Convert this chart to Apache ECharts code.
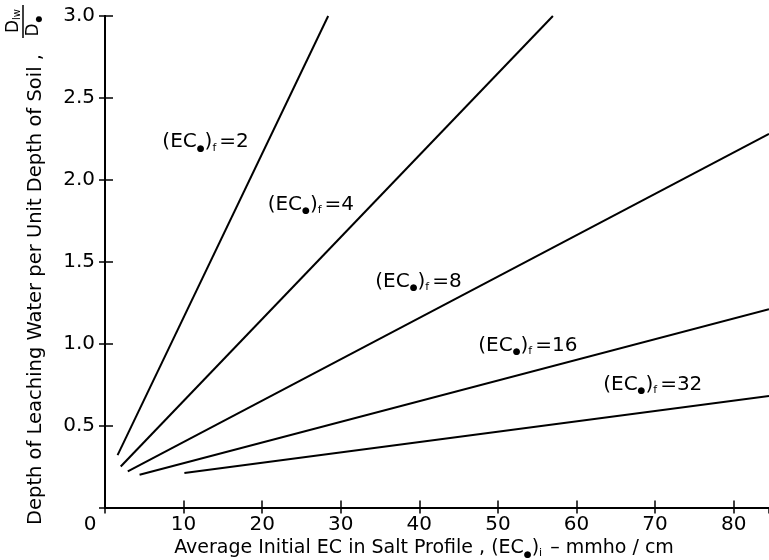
<!DOCTYPE html>
<html>
<head>
<meta charset="utf-8">
<script src="https://cdn.jsdelivr.net/npm/echarts@6/dist/echarts.min.js"></script>
<style>html,body{margin:0;padding:0;background:#fff}#c{width:769px;height:560px}</style>
</head>
<body>
<div id="c"></div>
<script>
// Data
const xTicks = [0, 10, 20, 30, 40, 50, 60, 70, 80];
const yTicks = [0.5, 1.0, 1.5, 2.0, 2.5, 3.0];
const curveNames = ['2', '4', '8', '16', '32'];
const line2  = [[1.6, 0.32], [28.4, 3.0]];
const line4  = [[2.0, 0.25], [57.0, 3.0]];
const line8  = [[2.9, 0.22], [84.5, 2.28]];
const line16 = [[4.4, 0.20], [84.5, 1.21]];
const line32 = [[10.1, 0.21], [84.5, 0.68]];
const labelAnchorsX = [7.3, 20.7, 34.4, 47.5, 63.4];
const labelAnchorsY = [2.23, 1.85, 1.38, 0.99, 0.75];

const FONT = 'DejaVu Sans';
const INK = '#000';
const lines = [line2, line4, line8, line16, line32];
const chart = echarts.init(document.getElementById('c'), null, {renderer: 'canvas'});

const subRich = {
  n: {fontFamily: FONT, fontSize: 20, color: INK, opacity: 1},
  e: {fontFamily: FONT, fontSize: 9, color: INK, verticalAlign: 'bottom', padding: [10, 0, 0, 0]},
  f: {fontFamily: FONT, fontSize: 11, color: INK, verticalAlign: 'bottom', padding: [11, 3, 0, 0]}
};

const series = lines.map((d, i) => ({
  type: 'line', name: 'EC' + curveNames[i], data: d, showSymbol: false, symbol: 'none',
  lineStyle: {color: INK, width: 2}, silent: true, animation: false, clip: true
}));
series.push({
  type: 'scatter', name: 'labels', symbolSize: 0, silent: true, animation: false,
  itemStyle: {opacity: 1},
  data: labelAnchorsX.map((x, i) => ({value: [x, labelAnchorsY[i]], name: curveNames[i]})),
  label: {
    show: true, position: 'right', distance: 0, color: INK, opacity: 1, textBorderWidth: 0,
    formatter: p => '{n|(EC}{e|●}{n|)}{f|f}{n|=' + p.name + '}',
    rich: subRich
  }
});

const axisLineStyle = {color: INK, width: 2};
chart.setOption({
  animation: false,
  backgroundColor: '#fff',
  grid: {left: 105, top: 16, right: 0, bottom: 52.5, containLabel: false},
  xAxis: [{
    type: 'value', min: 0, max: 84.5, interval: 10, position: 'bottom',
    axisLine: {show: true, lineStyle: axisLineStyle},
    axisTick: {show: true, inside: true, length: 7, lineStyle: {color: INK, width: 1.5}},
    splitLine: {show: false},
    axisLabel: {
      fontFamily: FONT, fontSize: 20, color: INK, margin: 7, showMaxLabel: false,
      formatter: v => xTicks.indexOf(v) === 0 ? '{z|0}' : (xTicks.indexOf(v) >= 0 ? String(v) : ''),
      rich: {z: {fontFamily: FONT, fontSize: 20, color: INK, padding: [0, 30, 0, 0]}}
    }
  }, {
    type: 'value', min: 0, max: 84.5, interval: 10, position: 'top',
    axisLine: {show: true, lineStyle: axisLineStyle},
    axisTick: {show: true, inside: true, length: 6, lineStyle: {color: INK, width: 1.5}},
    axisLabel: {show: false}, splitLine: {show: false}
  }],
  yAxis: [{
    type: 'value', min: 0, max: 3.0, interval: 0.5, position: 'left',
    axisLine: {show: true, lineStyle: axisLineStyle},
    axisTick: {show: true, inside: true, length: 8, lineStyle: {color: INK, width: 1.5}},
    splitLine: {show: false},
    axisLabel: {
      fontFamily: FONT, fontSize: 20, color: INK, margin: 10, showMinLabel: false,
      formatter: v => yTicks.some(t => Math.abs(t - v) < 1e-9) ? v.toFixed(1) : ''
    }
  }, {
    type: 'value', min: 0, max: 3.0, interval: 0.5, position: 'right',
    axisLine: {show: true, lineStyle: axisLineStyle},
    axisTick: {show: true, inside: true, length: 6, lineStyle: {color: INK, width: 1.5}},
    axisLabel: {show: false}, splitLine: {show: false}
  }],
  series: series,
  graphic: [
    {
      type: 'text', x: 424, y: 548, silent: true,
      style: {
        text: '{n|Average Initial EC in Salt Profile , (EC}{e|●}{n|)}{f|i}{n| – mmho / cm}',
        align: 'center', verticalAlign: 'middle',
        rich: {
          n: {fontFamily: FONT, fontSize: 19, fill: INK},
          e: {fontFamily: FONT, fontSize: 9, fill: INK, verticalAlign: 'bottom', padding: [9, 0, 0, 0]},
          f: {fontFamily: FONT, fontSize: 11, fill: INK, verticalAlign: 'bottom', padding: [11, 2, 0, 0]}
        }
      }
    },
    {
      type: 'text', x: 36, y: 525, rotation: Math.PI / 2, silent: true,
      style: {
        text: 'Depth of Leaching Water per Unit Depth of Soil ,',
        font: '19.5px ' + FONT, fill: INK, align: 'left', verticalAlign: 'middle'
      }
    },
    {
      type: 'text', x: 14, y: 21, rotation: Math.PI / 2, silent: true,
      style: {
        text: '{d|D}{s|lw}', align: 'center', verticalAlign: 'middle',
        rich: {d: {fontFamily: FONT, fontSize: 17, fill: INK}, s: {fontFamily: FONT, fontSize: 10, fill: INK, verticalAlign: 'bottom', padding: [7, 0, 0, 0]}}
      }
    },
    {
      type: 'line', silent: true,
      shape: {x1: 23, y1: 5, x2: 23, y2: 38},
      style: {stroke: INK, lineWidth: 1.5}
    },
    {
      type: 'text', x: 34, y: 26, rotation: Math.PI / 2, silent: true,
      style: {
        text: '{d|D}{s|●}', align: 'center', verticalAlign: 'middle',
        rich: {d: {fontFamily: FONT, fontSize: 17, fill: INK}, s: {fontFamily: FONT, fontSize: 8, fill: INK, verticalAlign: 'bottom', padding: [7, 0, 0, 1]}}
      }
    }
  ]
});
</script>
</body>
</html>
